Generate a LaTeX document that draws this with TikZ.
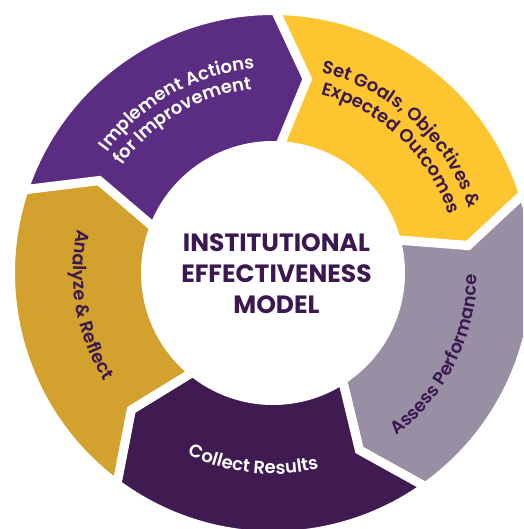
\documentclass[tikz,border=0pt]{standalone}
\usepackage{fontspec}
\setmainfont{Poppins}
\newfontfamily\semifam{Poppins SemiBold}
\usetikzlibrary{decorations.text}

\definecolor{segPurple}{HTML}{5A2D82}
\definecolor{segYellow}{HTML}{FDC530}
\definecolor{segGray}{HTML}{998FA5}
\definecolor{segDark}{HTML}{3F1B52}
\definecolor{segGold}{HTML}{D3A12D}
\definecolor{inkDark}{HTML}{3B1950}

\newcommand\labelfont{\semifam\fontsize{18}{21}\selectfont}

% ring geometry (pt): outer/inner radii of the stroked paths, radius of the chevron tips
\newcommand\rOut{262.5}
\newcommand\rIn{127.5}
\newcommand\rTip{197}

% one chevron-shaped ring segment, starting at boundary angle #1 and running 72 degrees clockwise
\newcommand\ringseg[2]{%
  \path[seg, fill=#2]
    (#1:\rOut) arc[start angle=#1, end angle={#1-72}, radius=\rOut]
    -- ({#1-81.5}:\rTip) -- ({#1-74.5}:\rIn)
    arc[start angle={#1-74.5}, end angle={#1-2.5}, radius=\rIn]
    -- ({#1-9.5}:\rTip) -- cycle;}

% label running clockwise (letters point outward): colour, centre angle, radius, text
\newcommand\cwlabel[4]{%
  \path[decorate, decoration={text along path, text align=center, text color=#1,
      text={|\labelfont|#4}}]
    ({#2+60}:#3) arc[start angle={#2+60}, end angle={#2-60}, radius=#3];}

% label running counter-clockwise (letters point to the centre)
\newcommand\ccwlabel[4]{%
  \path[decorate, decoration={text along path, text align=center, text color=#1,
      text={|\labelfont|#4}}]
    ({#2-60}:#3) arc[start angle={#2-60}, end angle={#2+60}, radius=#3];}

\begin{document}
\begin{tikzpicture}[x=1pt, y=1pt,
  seg/.style={draw=white, line width=9pt, line join=miter, miter limit=20},
  title/.style={align=center, text=inkDark, font=\bfseries\fontsize{25}{31}\selectfont}]
\useasboundingbox (-273,-256) rectangle (250,273);
\clip (-273,-256) rectangle (250,273);

% the five stages, in clockwise order
\ringseg{89.5}{segYellow}
\ringseg{17.5}{segGray}
\ringseg{-54.5}{segDark}
\ringseg{-126.5}{segGold}
\ringseg{161.5}{segPurple}

% stage labels
\cwlabel{white}{119.5}{205}{Implement Actions}
\cwlabel{white}{120.6}{185}{for Improvement}
\cwlabel{inkDark}{47.3}{206}{Set Goals, Objectives {\&}}
\cwlabel{inkDark}{46.7}{185}{Expected Outcomes}
\ccwlabel{inkDark}{-26.7}{204}{Assess Performance}
\ccwlabel{white}{-96}{201}{Collect Results}
\ccwlabel{inkDark}{190}{200}{Analyze {\&} Reflect}

% centre
\node[title] (model) at (3.5,-1) {INSTITUTIONAL\\EFFECTIVENESS\\MODEL};
\end{tikzpicture}
\end{document}
